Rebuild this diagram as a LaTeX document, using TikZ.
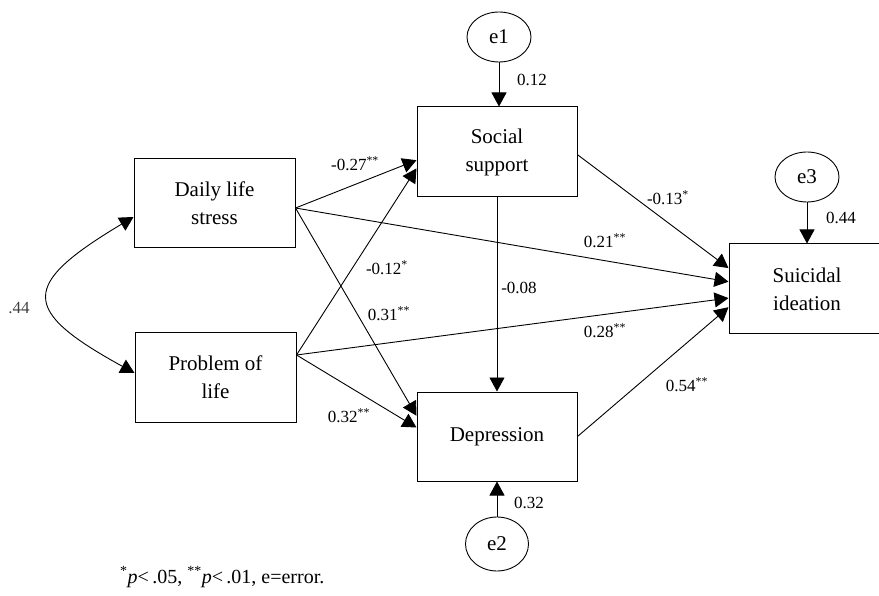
\documentclass[tikz,border=0pt]{standalone}
\usepackage{fontspec}
\setmainfont{Liberation Serif}
\usetikzlibrary{arrows.meta,calc,shapes.geometric}
\newcommand{\sig}[1]{\textsuperscript{#1}}
\begin{document}
\begin{tikzpicture}[x=1pt,y=-1pt,
  box/.style={draw, line width=1pt, minimum width=161pt, minimum height=89pt,
    inner sep=0pt, align=center, font=\fontsize{21}{28}\selectfont},
  err/.style={draw, ellipse, line width=0.9pt, inner sep=0pt,
    minimum width=64pt, minimum height=50pt, font=\fontsize{21}{26}\selectfont},
  link/.style={line width=0.9pt, -{Triangle[length=14pt,width=15pt]}},
  dlink/.style={line width=0.9pt, {Triangle[length=14pt,width=15pt]}-{Triangle[length=14pt,width=15pt]}},
  lab/.style={font=\fontsize{17}{20}\selectfont, inner sep=0pt},
]
\useasboundingbox (0,0) rectangle (879,596);
\clip (0,0) rectangle (879,596);

% observed variables
\node[box] (dls) at (214.5,203.5) {Daily life\\stress};
\node[box] (pol) at (215.5,377.5) {Problem of\\life};
\node[box, minimum width=160pt, minimum height=90pt] (ss) at (497,152) {Social\\support};
\node[box, minimum width=160pt] (dep) at (497,436.5) {Depression};
\node[box, minimum width=156pt, minimum height=90pt] (si) at (807,289) {Suicidal\\ideation};

% error terms
\node[err] (e1) at (499,37) {e1};
\node[err, minimum width=63pt, minimum height=54pt] (e2) at (497,544) {e2};
\node[err] (e3) at (807,177) {e3};

% connection points on box edges
\coordinate (dlsE) at ($(dls.north east)!0.55!(dls.south east)$);
\coordinate (polE) at ($(pol.north east)!0.25!(pol.south east)$);
\coordinate (dlsW) at ($(dls.north west)!0.65!(dls.south west)$);
\coordinate (polW) at ($(pol.north west)!0.45!(pol.south west)$);
\coordinate (ssW1) at ($(ss.north west)!0.59!(ss.south west)$);
\coordinate (ssW2) at ($(ss.north west)!0.68!(ss.south west)$);
\coordinate (ssE) at ($(ss.north east)!0.53!(ss.south east)$);
\coordinate (depW1) at ($(dep.north west)!0.27!(dep.south west)$);
\coordinate (depW2) at ($(dep.north west)!0.40!(dep.south west)$);
\coordinate (siW1) at ($(si.north west)!0.27!(si.south west)$);
\coordinate (siW2) at ($(si.north west)!0.42!(si.south west)$);
\coordinate (siW3) at ($(si.north west)!0.60!(si.south west)$);
\coordinate (siW4) at ($(si.north west)!0.70!(si.south west)$);

% paths
\draw[link] (e1.south) -- (e1.south |- ss.north);
\draw[link] (e3.south) -- (e3.south |- si.north);
\draw[link] (e2.north) -- (e2.north |- dep.south);
\draw[link] (ss.south) -- (dep.north);
\draw[link] (dlsE) -- (ssW1);
\draw[link] (polE) -- (ssW2);
\draw[link] (dlsE) -- (siW2);
\draw[link] (dlsE) -- (depW1);
\draw[link] (polE) -- (depW2);
\draw[link] (polE) -- (siW3);
\draw[link] (ssE) -- (siW1);
\draw[link] (dep.east) -- (siW4);
\draw[dlink] (dlsW) .. controls (20,285) and (20,310) .. (polW);

% coefficients
\node[lab] (c1) at (355,164) {-0.27\sig{**}};
\node[lab] (c2) at (387,268) {-0.12\sig{*}};
\node[lab] (c3) at (389,314) {0.31\sig{**}};
\node[lab] (c4) at (349,416) {0.32\sig{**}};
\node[lab] (c5) at (519,288) {-0.08};
\node[lab] (c6) at (668,198) {-0.13\sig{*}};
\node[lab] (c7) at (605,241) {0.21\sig{**}};
\node[lab] (c8) at (605,331) {0.28\sig{**}};
\node[lab] (c9) at (687,385) {0.54\sig{**}};
\node[lab] (r1) at (532,80) {0.12};
\node[lab] (r2) at (529,503) {0.32};
\node[lab] (r3) at (841,218) {0.44};
\node[lab, text=black!75] (cov) at (19,308) {.44};

% note
\node[lab, anchor=west, font=\fontsize{20}{24}\selectfont] (note) at (120,577) {\sig{*}\textit{p}<\,.05, \sig{**}\textit{p}<\,.01, e=error.};
\end{tikzpicture}
\end{document}
